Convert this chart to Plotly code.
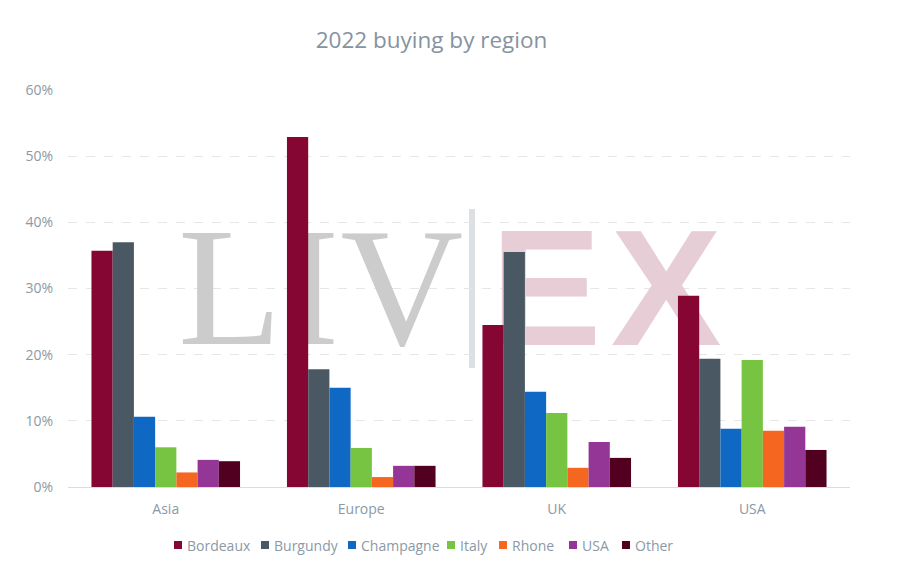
import plotly.graph_objects as go

regions = ["Asia", "Europe", "UK", "USA"]
series_names = ["Bordeaux", "Burgundy", "Champagne", "Italy", "Rhone", "USA", "Other"]
bordeaux = [35.7, 52.9, 24.5, 28.9]
burgundy = [37.0, 17.8, 35.5, 19.4]
champagne = [10.6, 15.0, 14.4, 8.8]
italy = [6.0, 5.9, 11.2, 19.2]
rhone = [2.2, 1.5, 2.9, 8.5]
usa = [4.1, 3.2, 6.8, 9.1]
other = [3.9, 3.2, 4.4, 5.6]
y_ticks = [0, 10, 20, 30, 40, 50, 60]
y_tick_labels = ["0%", "10%", "20%", "30%", "40%", "50%", "60%"]

values = [bordeaux, burgundy, champagne, italy, rhone, usa, other]
colors = ["#850633", "#4a5863", "#0f69c4", "#77c442", "#f56621", "#943695", "#520020"]

W, H = 898, 584
OFF = 8  # page body margin
# target plot area on screen: x 68..850, y 90..487
ML = 68 - OFF
MT = 90 - OFF
MR = W - (850 - OFF)
MB = H - (487 - OFF)
PW, PH = W - ML - MR, H - MT - MB


def px_x(x):
    """screen pixel x -> paper fraction"""
    return (x - OFF - ML) / PW


def px_y(y):
    """screen pixel y -> paper fraction"""
    return (H - MB - (y - OFF)) / PH


fig = go.Figure()

# watermark (logo text) on the hidden base axes, drawn beneath the bars
serif_dy = 12
sans_dy = 14.5
fig.add_trace(go.Scatter(
    x=[px_x(230), px_x(311), px_x(402)], y=[px_y(289 + serif_dy)] * 3,
    text=["L", "I", "V"], mode="text", textposition="middle center",
    textfont=dict(family="Liberation Serif", size=170, color="#cccccc"),
    hoverinfo="skip", showlegend=False, xaxis="x", yaxis="y"))
fig.add_trace(go.Scatter(
    x=[px_x(546), px_x(666)], y=[px_y(289 + sans_dy)] * 2,
    text=["<b>E</b>", "<b>X</b>"], mode="text", textposition="middle center",
    textfont=dict(family="Liberation Sans", size=166, color="#e6cdd6"),
    hoverinfo="skip", showlegend=False, xaxis="x", yaxis="y"))

for name, vals, col in zip(series_names, values, colors):
    fig.add_trace(go.Bar(name=name, x=regions, y=vals, marker_color=col,
                         marker_line_width=0, showlegend=False,
                         xaxis="x2", yaxis="y2",
                         hovertemplate="%{x}: %{y:.1f}%<extra>" + name + "</extra>"))

text_col = "#8b99a6"
shapes = [dict(type="rect", xref="paper", yref="paper", layer="below",
               x0=px_x(469), x1=px_x(475), y0=px_y(368), y1=px_y(209),
               line=dict(width=0), fillcolor="#dde0e3")]

# legend (custom, to match the compact layout)
legend_x = [174, 261, 348, 447, 499, 569, 622]
annotations = []
for name, col, lx in zip(series_names, colors, legend_x):
    shapes.append(dict(type="rect", xref="paper", yref="paper",
                       x0=px_x(lx), x1=px_x(lx + 8), y0=px_y(549), y1=px_y(541),
                       line=dict(width=0), fillcolor=col))
    annotations.append(dict(text=name, xref="paper", yref="paper",
                            x=px_x(lx + 11), y=px_y(545), xanchor="left",
                            yanchor="middle", showarrow=False,
                            font=dict(family="Open Sans", size=14, color=text_col)))

fig.update_layout(
    width=W, height=H,
    margin=dict(l=ML, r=MR, t=MT, b=MB),
    paper_bgcolor="white", plot_bgcolor="white",
    font=dict(family="Open Sans", color=text_col, size=14),
    title=dict(text="2022 buying by region", x=(431.5 - OFF) / W, xanchor="center",
               y=1 - (40 - OFF) / H, yanchor="middle",
               font=dict(family="Open Sans", size=22.5, color="#8593a0")),
    barmode="group", bargap=0.24, bargroupgap=0,
    shapes=shapes,
    annotations=annotations,
    showlegend=False,
    xaxis=dict(range=[0, 1], visible=False, fixedrange=True),
    yaxis=dict(range=[0, 1], visible=False, fixedrange=True),
    xaxis2=dict(overlaying="x", anchor="y2", side="bottom",
                showgrid=False, showline=True, linecolor="#d8dde3", linewidth=1,
                ticks="", tickfont=dict(size=14, color=text_col), ticklabelstandoff=9),
    yaxis2=dict(overlaying="y", anchor="x2", side="left",
                range=[0, 60], tickvals=y_ticks, ticktext=y_tick_labels,
                showgrid=True, gridcolor="#e6e6e6", griddash="dash", gridwidth=1,
                zeroline=False, showline=False, ticks="",
                tickfont=dict(size=14, color=text_col), ticklabelstandoff=14),
)

fig.write_html("out.html")
